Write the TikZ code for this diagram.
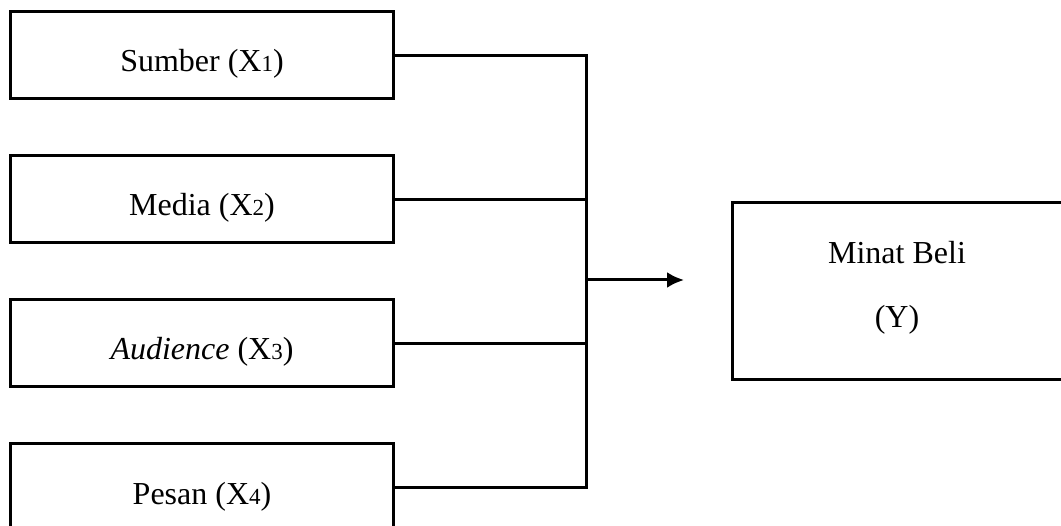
\documentclass[tikz,border=0pt]{standalone}
\usepackage{fontspec}
\setmainfont{Liberation Serif}
\usetikzlibrary{arrows.meta}
\newcommand{\dig}[1]{{\fontsize{23}{23}\selectfont #1}}
\begin{document}
\begin{tikzpicture}[x=1pt,y=-1pt,
  varbox/.style={draw=black, line width=3pt, rectangle, inner sep=0pt,
    minimum width=383pt, minimum height=87pt,
    font=\fontsize{32}{32}\selectfont, text height=33pt, text depth=0pt},
  conn/.style={draw=black, line width=3pt},
  ybox/.style={draw=black, line width=3pt, rectangle, inner sep=0pt,
    minimum width=331pt, minimum height=177pt}]
\useasboundingbox (0,0) rectangle (1061,526);
\clip (0,0) rectangle (1061,526);
\node[varbox] (b1) at (202,55.5) {Sumber (X\dig{1})};
\node[varbox] (b2) at (202,199.5) {Media (X\dig{2})};
\node[varbox] (b3) at (202,343.5) {\textit{Audience} (X\dig{3})};
\node[varbox] (b4) at (202,487.5) {Pesan (X\dig{4})};
\node[ybox] (y) at (897.5,291.5) {};
\node[font=\fontsize{32}{32}\selectfont] (t1) at (897,253) {Minat Beli};
\node[font=\fontsize{32}{32}\selectfont] (t2) at (897,320) {(Y)};
\coordinate (j) at (586,0);
\coordinate (a) at (586,280);
\coordinate (ae) at (684,280);
\draw[conn] (b1.east) -- (b1.east -| j) -- (b4.east -| j) -- (b4.east);
\draw[conn] (b2.east) -- (b2.east -| j);
\draw[conn] (b3.east) -- (b3.east -| j);
\draw[conn, -{Latex[length=17pt,width=16pt]}] (a) -- (ae);
\end{tikzpicture}
\end{document}
